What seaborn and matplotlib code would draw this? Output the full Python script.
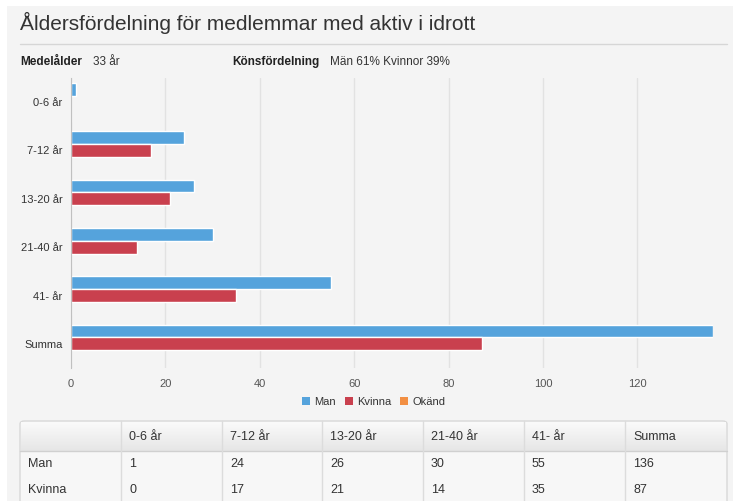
import numpy as np
import pandas as pd
import matplotlib.pyplot as plt
import seaborn as sns
from matplotlib.patches import Rectangle, FancyBboxPatch
from matplotlib.lines import Line2D
from matplotlib.colors import LinearSegmentedColormap

# data
ages = ['0-6 år', '7-12 år', '13-20 år', '21-40 år', '41- år', 'Summa']
man = [1, 24, 26, 30, 55, 136]
kvinna = [0, 17, 21, 14, 35, 87]
okand = [0, 0, 0, 0, 0, 0]
series = ['Man', 'Kvinna', 'Okänd']
colors = ['#55a3dc', '#c9404e', '#f28f43']

df = pd.DataFrame({
    'Ålder': ages * 3,
    'Antal': man + kvinna + okand,
    'Kön': ['Man'] * 6 + ['Kvinna'] * 6 + ['Okänd'] * 6,
})

sns.set_style('white')
plt.rcParams['font.family'] = ['Liberation Sans', 'DejaVu Sans']

W, H = 733, 501
bg = '#f4f4f4'
fig = plt.figure(figsize=(W / 100, H / 100), dpi=100, facecolor=bg)

# white page edge at top / left
fig.patches.append(Rectangle((0, 1 - 6 / H), 1, 6 / H, transform=fig.transFigure,
                             facecolor='white', edgecolor='none', zorder=0))
fig.patches.append(Rectangle((0, 0), 7 / W, 1, transform=fig.transFigure,
                             facecolor='white', edgecolor='none', zorder=0))

def fx(px):
    return px / W

def fy(py):
    return 1 - py / H

# header
fig.text(fx(20), fy(23), 'Åldersfördelning för medlemmar med aktiv i idrott',
         fontsize=15, color='#333333', va='center', ha='left')
fig.add_artist(Line2D([fx(20), fx(727)], [fy(44), fy(44)], color='#d6d6d6', lw=1))
fig.text(fx(20), fy(62), 'Medelålder', fontsize=8.5, fontweight='bold', color='#222222', va='center')
fig.text(fx(93), fy(62), '33 år', fontsize=8.5, color='#333333', va='center')
fig.text(fx(232), fy(62), 'Könsfördelning', fontsize=8.5, fontweight='bold', color='#222222', va='center')
fig.text(fx(330), fy(62), 'Män 61% Kvinnor 39%', fontsize=8.5, color='#333333', va='center')

# chart
ax = fig.add_axes([fx(71), fy(368), fx(713 - 71), (368 - 78) / H])
ax.set_facecolor(bg)
sns.barplot(data=df, x='Antal', y='Ålder', hue='Kön', hue_order=series,
            palette=colors, saturation=1, orient='h', width=0.8, edgecolor='white',
            linewidth=1, ax=ax, legend=False)
ax.set_xlim(0, 136)
ax.set_ylim(5.5, -0.5)
ax.set_xticks([0, 20, 40, 60, 80, 100, 120])
ax.xaxis.grid(True, color='#e2e2e2', lw=1)
ax.set_axisbelow(True)
ax.set_xlabel('')
ax.set_ylabel('')
for s in ['top', 'right', 'bottom']:
    ax.spines[s].set_visible(False)
ax.spines['left'].set_color('#c0c0c0')
ax.set_yticks([i - 0.5 for i in range(7)], minor=True)
ax.set_yticks(range(6))
ax.set_yticklabels(ages)
ax.tick_params(axis='y', which='major', length=0, pad=6, labelsize=8, labelcolor='#333333')
ax.tick_params(axis='y', which='minor', length=5, color='#c0c0c0', width=1)
ax.tick_params(axis='x', length=0, pad=8, labelsize=8, labelcolor='#555555')

# legend
handles = [Rectangle((0, 0), 1, 1, facecolor=c, edgecolor='none') for c in colors]
fig.legend(handles, series, loc='center', bbox_to_anchor=(fx(374), fy(402)), ncol=3,
           frameon=False, fontsize=8, handlelength=0.7, handleheight=0.7,
           handletextpad=0.4, columnspacing=0.8, labelcolor='#333333')

# table
tab_left, tab_right, tab_top = 20, 727, 421
col_edges = [20, 121, 222, 322, 423, 524, 625, 727]
header_h = 30
row_h = 26
fig.patches.append(FancyBboxPatch((fx(tab_left), fy(505)), fx(tab_right - tab_left), (505 - tab_top) / H,
                                  boxstyle='round,pad=0,rounding_size=0.006', transform=fig.transFigure,
                                  facecolor='#f7f7f7', edgecolor='#d8d8d8', lw=1, zorder=1))
# header gradient
hax = fig.add_axes([fx(tab_left + 1), fy(tab_top + header_h), fx(tab_right - tab_left - 2),
                    (header_h - 1) / H], zorder=2)
grad = np.linspace(0, 1, 50).reshape(-1, 1)
cmap = LinearSegmentedColormap.from_list('hdr', ['#fafafa', '#e6e6e6'])
hax.imshow(grad, aspect='auto', cmap=cmap, extent=(0, 1, 1, 0))
hax.axis('off')

fig.add_artist(Line2D([fx(tab_left), fx(tab_right)], [fy(tab_top + header_h)] * 2,
                      color='#d0d0d0', lw=1, zorder=3))
for x in col_edges[1:-1]:
    fig.add_artist(Line2D([fx(x), fx(x)], [fy(tab_top), fy(501)], color='#dcdcdc', lw=1, zorder=3))

header = [''] + ages
rows = [['Man'] + [str(v) for v in man], ['Kvinna'] + [str(v) for v in kvinna]]
for j, txt in enumerate(header):
    fig.text(fx(col_edges[j] + 8), fy(tab_top + header_h / 2 + 1), txt, fontsize=9,
             color='#333333', va='center', zorder=4)
for i, row in enumerate(rows):
    yc = tab_top + header_h + row_h / 2 + i * row_h
    for j, txt in enumerate(row):
        fig.text(fx(col_edges[j] + 8), fy(yc), txt, fontsize=9, color='#333333',
                 va='center', zorder=4)

plt.savefig('out.png', dpi=100, facecolor=bg)
